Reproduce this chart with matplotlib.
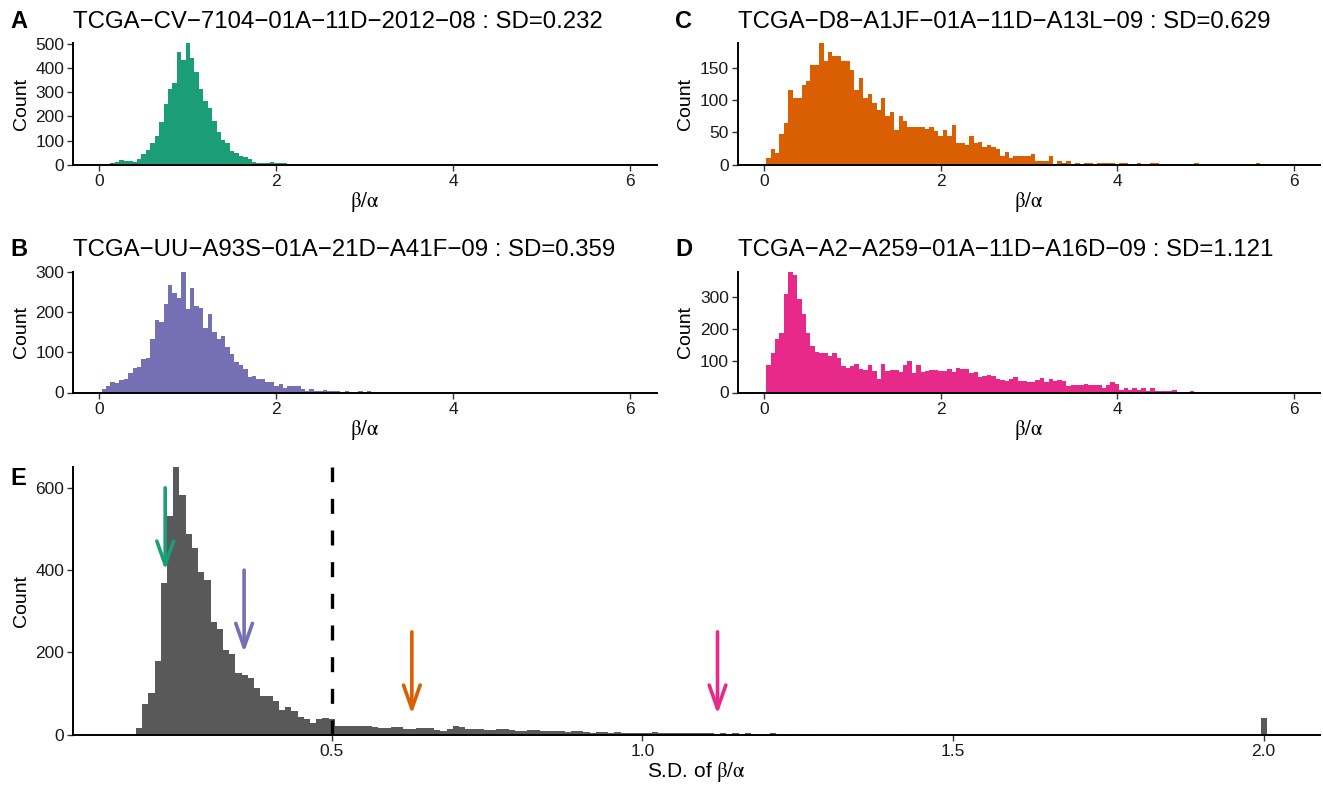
import numpy as np
import matplotlib.pyplot as plt

plt.rcParams['font.family'] = ['Liberation Sans', 'DejaVu Sans']
plt.rcParams['mathtext.fontset'] = 'stix'

# ---- data (bin counts) ----
bw = 0.05  # per-sample histograms
a_start = 0.05
a_counts = [2, 3, 5, 11, 18, 14, 14, 10, 24, 43, 60, 89, 118, 177, 252, 313, 338, 467, 434,
            503, 442, 384, 313, 263, 234, 181, 134, 102, 89, 55, 48, 35, 30, 24, 10, 5, 5, 5,
            10, 5, 5, 5]
b_start = 0.05
b_counts = [8, 16, 26, 23, 31, 33, 48, 60, 63, 83, 85, 133, 180, 175, 220, 267, 247, 235, 300,
            207, 259, 215, 210, 160, 195, 150, 133, 140, 113, 95, 75, 68, 58, 38, 41, 33, 33, 26,
            26, 16, 21, 11, 16, 16, 16, 8, 3, 8, 3, 3, 6, 3, 3, 3, 0, 3, 0, 0, 3, 0, 3]
c_start = 0.05
c_counts = [10, 25, 18, 48, 64, 115, 103, 104, 124, 130, 154, 154, 188, 160, 175, 169, 169, 160,
            161, 146, 116, 135, 104, 109, 95, 84, 104, 75, 81, 53, 75, 67, 59, 58, 58, 59, 56, 59,
            52, 45, 53, 45, 61, 33, 33, 30, 45, 33, 35, 28, 30, 27, 25, 13, 19, 11, 13, 14, 13, 13,
            16, 6, 5, 5, 13, 0, 6, 3, 5, 0, 3, 0, 2, 2, 0, 2, 2, 2, 3, 0, 2, 3, 0, 0, 2, 0, 0, 2,
            2, 0, 1, 0, 0, 1, 0, 0, 0, 2, 0, 0, 0, 0, 0, 0, 0, 0, 0, 0, 0, 0, 0, 2]
d_start = 0.05
d_counts = [86, 124, 168, 187, 310, 379, 367, 294, 247, 187, 146, 127, 124, 124, 114, 124, 108,
            83, 77, 83, 89, 74, 70, 86, 67, 42, 89, 67, 70, 70, 64, 86, 99, 61, 86, 64, 67, 70,
            70, 67, 67, 74, 64, 77, 74, 74, 61, 64, 48, 51, 55, 51, 42, 40, 35, 41, 50, 35, 35,
            32, 32, 38, 44, 32, 41, 35, 38, 35, 19, 22, 25, 25, 28, 25, 25, 25, 13, 22, 32, 28,
            9, 13, 9, 13, 9, 13, 6, 13, 6, 6, 6, 6, 9, 0, 3, 3, 6, 3, 3, 3, 3, 0, 0, 0, 0, 0, 0,
            0, 3]

sample_titles = ["TCGA\u2212CV\u22127104\u221201A\u221211D\u22122012\u221208 : SD=0.232",
                 "TCGA\u2212UU\u2212A93S\u221201A\u221221D\u2212A41F\u221209 : SD=0.359",
                 "TCGA\u2212D8\u2212A1JF\u221201A\u221211D\u2212A13L\u221209 : SD=0.629",
                 "TCGA\u2212A2\u2212A259\u221201A\u221211D\u2212A16D\u221209 : SD=1.121"]
sample_sd = [0.232, 0.359, 0.629, 1.121]
sample_colors = ['#1B9E77', '#7570B3', '#D95F02', '#E7298A']
arrow_top = [600, 400, 250, 250]
arrow_tip = [400, 200, 50, 50]

# S.D. histogram (bin width 0.01)
e_bw = 0.01
e_start = 0.19
e_dense = [17, 75, 102, 178, 368, 531, 650, 582, 487, 453, 395, 375, 273, 258, 207, 195, 151,
           146, 139, 114, 95, 93, 83, 61, 68, 58, 44, 39, 29, 37, 41, 39,
           21, 22, 22, 21, 21, 20, 18, 17, 17, 18, 18, 15, 14, 16, 17, 16, 11, 9, 15, 21,
           18, 15, 13, 13, 11, 11, 13, 14, 12, 9, 10, 12, 11, 9, 9, 10, 9, 7, 8, 8,
           6, 5, 6, 7, 5, 6, 5, 4, 5, 5, 4, 6, 5, 3, 4, 5, 3, 4, 3, 4,
           3, 0, 3, 2, 3, 0, 3, 2, 0, 2, 3, 2, 0, 2, 0, 0, 2, 0, 0, 0]
e_sparse_x = [1.32, 1.38, 1.42, 1.53, 1.74, 2.00]
e_sparse_n = [2, 2, 2, 2, 2, 40]
e_cut = 0.5

W, H = 1323, 786
fig = plt.figure(figsize=(W / 100, H / 100), dpi=100)


def px_axes(left, top, right, bottom):
    return fig.add_axes([left / W, 1 - bottom / H, (right - left) / W, (bottom - top) / H])


def style(ax):
    for s in ['top', 'right']:
        ax.spines[s].set_visible(False)
    for s in ['left', 'bottom']:
        ax.spines[s].set_linewidth(1.4)
        ax.spines[s].set_color('black')
    ax.tick_params(length=4, width=1, color='#333333', labelsize=12.5, pad=2.5,
                   labelcolor='#1a1a1a')


def hist_stairs(ax, start, width, counts, color):
    counts = np.asarray(counts, dtype=float)
    edges = start - width / 2 + width * np.arange(len(counts) + 1)
    ax.stairs(counts, edges, fill=True, color=color, linewidth=0)


boxes = [(73.3, 43.3, 656.7, 164.7), (73.3, 271.5, 656.7, 392.5),
         (738, 43.3, 1320, 164.7), (738, 271.5, 1320, 392.5)]
starts = [a_start, b_start, c_start, d_start]
counts_all = [a_counts, b_counts, c_counts, d_counts]
yticks_all = [[0, 100, 200, 300, 400, 500], [0, 100, 200, 300], [0, 50, 100, 150],
              [0, 100, 200, 300]]
letters = ['A', 'B', 'C', 'D']

for i in range(4):
    ax = px_axes(*boxes[i])
    hist_stairs(ax, starts[i], bw, counts_all[i], sample_colors[i])
    ax.set_xlim(-0.295, 6.30)
    ax.set_ylim(0, max(counts_all[i]))
    ax.set_xticks([0, 2, 4, 6])
    ax.set_yticks(yticks_all[i])
    style(ax)
    ax.set_xlabel(r'$\mathrm{\beta/\alpha}$', fontsize=15, labelpad=1)
    ax.set_ylabel('Count', fontsize=14, labelpad=4)
    ax.set_title(sample_titles[i], loc='left', fontsize=17.3, pad=11)
    fig.text((boxes[i][0] - 63) / W, 1 - 28 / H - (boxes[i][1] - 43.3) / H, letters[i],
             fontsize=17, fontweight='bold', va='baseline')

# ---- panel E ----
ax = px_axes(73.3, 467.3, 1320, 734.7)
n_bins = int(round((2.00 - e_start) / e_bw)) + 1
e_counts = np.zeros(n_bins)
e_counts[:len(e_dense)] = e_dense
for x, n in zip(e_sparse_x, e_sparse_n):
    e_counts[int(round((x - e_start) / e_bw))] = n
hist_stairs(ax, e_start, e_bw, e_counts, '#595959')
ax.set_xlim(0.0841, 2.0907)
ax.set_ylim(0, e_counts.max())
ax.set_xticks([0.5, 1.0, 1.5, 2.0])
ax.set_xticklabels(['0.5', '1.0', '1.5', '2.0'])
ax.set_yticks([0, 200, 400, 600])
style(ax)
ax.axvline(e_cut, color='black', lw=2.4, linestyle=(0, (4.5, 5.0)))
for sd, col, y0, y1 in zip(sample_sd, sample_colors, arrow_top, arrow_tip):
    ax.annotate('', xy=(sd, y1), xytext=(sd, y0),
                arrowprops=dict(arrowstyle='->,head_length=1.7,head_width=0.6',
                                color=col, lw=2.6, mutation_scale=10,
                                shrinkA=0, shrinkB=0))
ax.set_xlabel(r'S.D. of $\mathrm{\beta/\alpha}$', fontsize=15, labelpad=1)
ax.set_ylabel('Count', fontsize=14, labelpad=4)
fig.text(10 / W, 1 - 485 / H, 'E', fontsize=17, fontweight='bold', va='baseline')

fig.savefig('out.png', dpi=100)
